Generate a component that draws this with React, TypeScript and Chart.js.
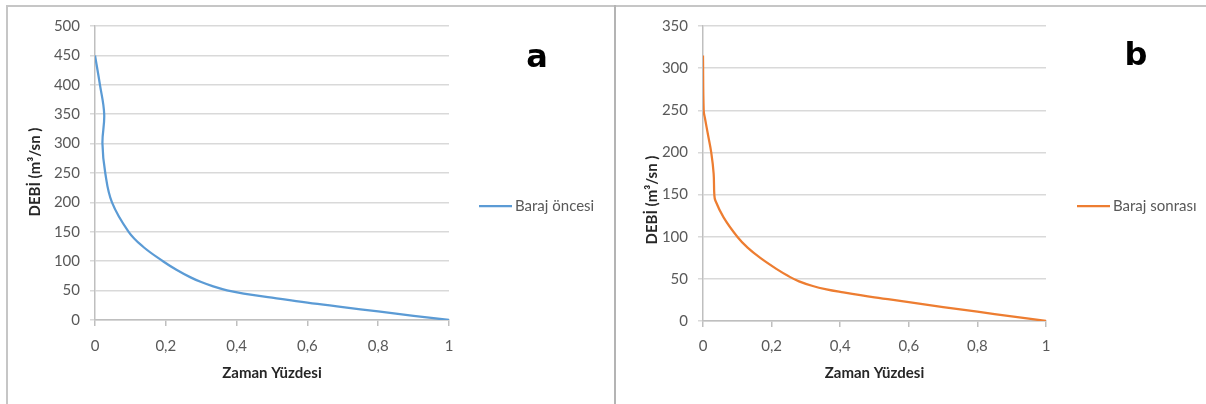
import React, { useEffect, useRef } from "react";
import { Chart, registerables } from "chart.js";

Chart.register(...registerables);

// ---- data ----
const xTickLabels = ["0", "0,2", "0,4", "0,6", "0,8", "1"];

const beforeLabel = "Baraj öncesi";
const beforeX = [0, 0.014, 0.026, 0.021, 0.029, 0.048, 0.095, 0.135, 0.192, 0.23, 0.27, 0.3, 0.33, 0.373, 0.42, 0.5, 0.6, 0.7, 0.8, 0.9, 1];
const beforeY = [450, 400, 350, 300, 250, 200, 150, 125, 100, 85.5, 72.5, 64.5, 58, 50.5, 45, 38, 29.5, 22, 14.5, 7, 0];

const afterLabel = "Baraj sonrası";
const afterX = [0, 0.002, 0.006, 0.015, 0.024, 0.031, 0.033, 0.036, 0.06, 0.1, 0.13, 0.168, 0.215, 0.25, 0.28, 0.32, 0.36, 0.4, 0.5, 0.6, 0.7, 0.8, 0.9, 1];
const afterY = [315, 250, 240, 220, 200, 175, 150, 143, 123, 100, 87, 74.5, 61.5, 53, 47, 41.5, 37.5, 34.5, 28, 22.5, 16.5, 11, 5.5, 0];

const xTitle = "Zaman Yüzdesi";
const yTitle = "DEBİ (m³/sn )";

const FONT = "Lato";
const TICK_COLOR = "#595959";
const TITLE_COLOR = "#262626";

const decorPlugin = {
  id: "decor",
  afterDraw(chart: any, _args: any, opts: any) {
    const ctx = chart.ctx as CanvasRenderingContext2D;
    ctx.save();
    // panel letter
    ctx.font = 'bold 32px "DejaVu Sans"';
    ctx.fillStyle = "#000";
    ctx.textAlign = "center";
    ctx.textBaseline = "alphabetic";
    ctx.fillText(opts.letter, opts.letterX, opts.letterY);
    // legend
    const ds = chart.data.datasets[0];
    ctx.strokeStyle = ds.borderColor;
    ctx.lineWidth = 2.25;
    ctx.beginPath();
    ctx.moveTo(opts.legX, opts.legY);
    ctx.lineTo(opts.legX + 33, opts.legY);
    ctx.stroke();
    ctx.font = `15px ${FONT}`;
    ctx.fillStyle = TICK_COLOR;
    ctx.textAlign = "left";
    ctx.textBaseline = "middle";
    ctx.fillText(ds.label, opts.legX + 36, opts.legY);
    // y title
    ctx.translate(opts.yTitleX, opts.yTitleY);
    ctx.rotate(-Math.PI / 2);
    ctx.font = `bold 15px ${FONT}`;
    ctx.fillStyle = TITLE_COLOR;
    ctx.textAlign = "center";
    ctx.textBaseline = "middle";
    ctx.fillText(opts.yTitle, 0, 0);
    ctx.restore();
  },
};

function makeConfig(p: any) {
  const points = p.xs.map((x: number, i: number) => ({ x, y: p.ys[i] }));
  return {
    type: "scatter",
    data: {
      datasets: [
        {
          label: p.label,
          data: points,
          showLine: true,
          borderColor: p.color,
          backgroundColor: p.color,
          borderWidth: 2.25,
          pointRadius: 0,
          tension: 0.4,
        },
      ],
    },
    options: {
      responsive: false,
      animation: false,
      layout: { padding: { left: 0, top: 19, right: p.padRight, bottom: 0 } },
      plugins: {
        legend: { display: false },
        tooltip: { enabled: false },
        decor: {
          letter: p.letter,
          letterX: p.letterX,
          letterY: p.letterY,
          legX: p.legX,
          legY: p.legY,
          yTitle: yTitle,
          yTitleX: p.yTitleX,
          yTitleY: p.yTitleY,
        },
      },
      scales: {
        x: {
          type: "linear",
          min: 0,
          max: 1,
          ticks: {
            stepSize: 0.2,
            color: TICK_COLOR,
            font: { family: FONT, size: 15 },
            padding: p.xTickPad,
            callback: (_v: any, i: number) => xTickLabels[i],
          },
          grid: { drawOnChartArea: false, drawTicks: true, tickLength: 6, color: "#bfbfbf", lineWidth: 1.5 },
          border: { color: "#bfbfbf", width: 1.5 },
          title: {
            display: true,
            text: xTitle,
            color: TITLE_COLOR,
            font: { family: FONT, size: 15, weight: "bold" },
            padding: { top: 0, bottom: 22 },
          },
          afterFit: (s: any) => {
            s.height = p.xHeight;
          },
        },
        y: {
          type: "linear",
          min: 0,
          max: p.yMax,
          ticks: {
            stepSize: 50,
            color: TICK_COLOR,
            font: { family: FONT, size: 15 },
            padding: 10,
          },
          grid: { color: "#d9d9d9", lineWidth: 1.5, drawTicks: true, tickLength: 5 },
          border: { color: "#bfbfbf", width: 1.5 },
          afterFit: (s: any) => {
            s.width = 87;
          },
        },
      },
    },
    plugins: [decorPlugin],
  };
}

const panelA = {
  label: beforeLabel,
  xs: beforeX,
  ys: beforeY,
  color: "#5B9BD5",
  yMax: 500,
  padRight: 165,
  xHeight: 84,
  xTickPad: 11,
  letter: "a",
  letterX: 529,
  letterY: 60,
  legX: 471,
  legY: 199,
  yTitleX: 27,
  yTitleY: 165,
};

const panelB = {
  label: afterLabel,
  xs: afterX,
  ys: afterY,
  color: "#ED7D31",
  yMax: 350,
  padRight: 160,
  xHeight: 83,
  xTickPad: 10,
  letter: "b",
  letterX: 520,
  letterY: 58,
  legX: 461,
  legY: 199,
  yTitleX: 36,
  yTitleY: 193,
};

function Panel({ params, left, width }: any) {
  const ref = useRef<HTMLCanvasElement | null>(null);
  useEffect(() => {
    if (!ref.current) return;
    const chart = new Chart(ref.current, makeConfig(params) as any);
    return () => chart.destroy();
  }, [params]);
  return (
    <canvas
      ref={ref}
      width={width}
      height={397}
      style={{ position: "absolute", left, top: 7, width, height: 397 }}
    />
  );
}

export default function App() {
  return (
    <div
      style={{
        position: "absolute",
        left: 0,
        top: 0,
        width: 1206,
        height: 404,
        overflow: "hidden",
        background: "#fff",
      }}
    >
      <div
        style={{
          position: "absolute",
          left: 6,
          top: 5,
          width: 1300,
          height: 500,
          borderTop: "2px solid #c6c6c6",
          borderLeft: "2px solid #c6c6c6",
        }}
      />
      <div style={{ position: "absolute", left: 614, top: 5, width: 2, height: 500, background: "#b4b4b4" }} />
      <Panel params={panelA} left={8} width={606} />
      <Panel params={panelB} left={616} width={590} />
    </div>
  );
}
